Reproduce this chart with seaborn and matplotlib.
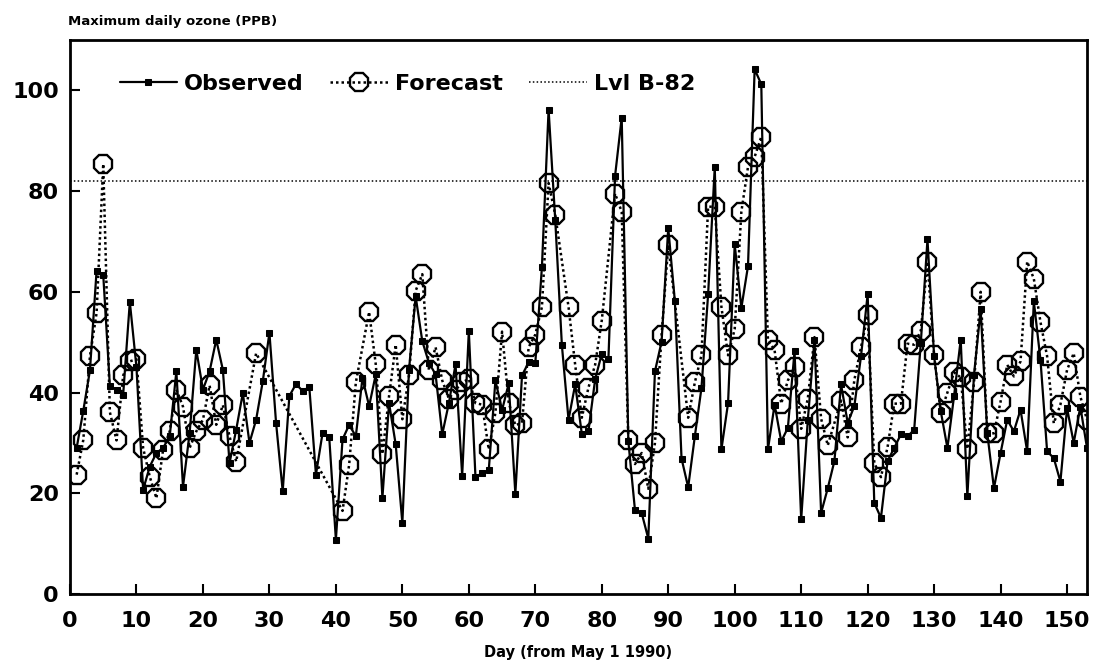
import numpy as np
import pandas as pd
import seaborn as sns
import matplotlib
matplotlib.use("Agg")
import matplotlib.pyplot as plt

# ---------------- data ----------------
obs_days = list(range(1, 154))
obs_values = [
    29.0, 36.4, 44.4, 64.2, 63.4, 41.3, 40.6, 39.6, 58.0, 45.0,      # 1-10
    20.7, 25.3, 28.0, 29.0, 31.3, 44.2, 21.3, 32.0, 48.5, 40.6,      # 11-20
    44.2, 50.5, 44.5, 26.0, 32.6, 39.9, 30.0, 34.6, 42.2, 51.9,      # 21-30
    34.0, 20.4, 39.3, 41.7, 40.3, 41.1, 23.7, 32.0, 31.1, 10.8,      # 31-40
    30.7, 33.6, 31.3, 42.9, 37.3, 43.6, 19.1, 37.9, 29.7, 14.1,      # 41-50
    44.5, 59.1, 50.2, 45.9, 43.6, 31.7, 37.9, 45.6, 23.5, 52.2,      # 51-60
    23.2, 24.0, 24.6, 42.4, 36.5, 41.8, 19.9, 43.4, 46.0, 45.8,      # 61-70
    65.0, 96.2, 74.3, 49.4, 34.6, 41.6, 31.8, 32.4, 42.6, 47.7,      # 71-80
    46.6, 83.0, 94.6, 30.3, 16.6, 16.1, 11.0, 44.2, 50.1, 72.7,      # 81-90
    58.1, 26.9, 21.2, 31.3, 40.9, 59.5, 84.8, 28.7, 37.9, 69.4,      # 91-100
    56.8, 65.1, 104.2, 101.2, 28.7, 37.6, 30.3, 33.0, 48.2, 14.8,    # 101-110
    34.6, 50.5, 16.1, 21.0, 26.4, 41.6, 34.0, 37.3, 47.2, 59.5,      # 111-120
    18.1, 15.1, 26.4, 29.0, 31.7, 31.3, 32.6, 49.9, 70.4, 47.2,      # 121-130
    36.3, 29.0, 39.3, 50.5, 19.4, 43.5, 56.5, 31.9, 21.0, 28.0,      # 131-140
    34.6, 32.3, 36.6, 28.3, 58.1, 46.5, 28.3, 27.0, 22.3, 36.9,      # 141-150
    30.0, 37.2, 29.0,                                                # 151-153
]

fc_days = [
    1, 2, 3, 4, 5, 6, 7, 8, 9, 10,
    11, 12, 13, 14, 15, 16, 17, 18, 19, 20,
    21, 22, 23, 24, 25, 28,
    41, 42, 43, 45, 46, 47, 48, 49, 50,
    51, 52, 53, 54, 55, 56, 57, 58, 59, 60,
    61, 62, 63, 64, 65, 66, 67, 68, 69, 70,
    71, 72, 73, 75, 76, 77, 78, 79, 80,
    82, 83, 84, 85, 86, 87, 88, 89, 90,
    93, 94, 95, 96, 97, 98, 99, 100,
    101, 102, 103, 104, 105, 106, 107, 108, 109, 110,
    111, 112, 113, 114, 116, 117, 118, 119, 120,
    121, 122, 123, 124, 125, 126, 127, 128, 129, 130,
    131, 132, 133, 134, 135, 136, 137, 138, 139, 140,
    141, 142, 143, 144, 145, 146, 147, 148, 149, 150,
    151, 152, 153,
]
fc_values = [
    23.7, 30.6, 47.2, 55.8, 85.4, 36.1, 30.5, 43.4, 46.2, 46.6,
    29.0, 23.3, 19.0, 28.6, 32.3, 40.6, 37.2, 29.0, 32.3, 34.6,
    41.4, 33.6, 37.5, 31.3, 26.3, 47.8,
    16.5, 25.7, 42.0, 56.0, 45.6, 27.8, 39.3, 49.5, 34.7,
    43.4, 60.2, 63.5, 44.4, 49.0, 42.4, 38.8, 40.5, 42.0, 42.7,
    37.9, 37.6, 28.7, 36.0, 52.1, 38.0, 33.5, 34.0, 49.0, 51.5,
    57.0, 81.6, 75.3, 57.0, 45.5, 35.0, 41.0, 45.5, 54.3,
    79.5, 75.9, 30.5, 25.8, 28.0, 20.9, 30.0, 51.4, 69.3,
    35.0, 42.0, 47.4, 76.9, 76.9, 57.0, 47.4, 52.6,
    75.9, 84.8, 86.8, 90.8, 50.4, 48.4, 37.8, 42.4, 45.1, 32.8,
    38.8, 51.0, 34.8, 29.5, 38.4, 31.1, 42.5, 49.0, 55.3,
    26.0, 23.2, 29.2, 37.8, 37.8, 49.7, 49.5, 52.3, 66.0, 47.4,
    36.0, 40.0, 44.0, 43.0, 28.8, 42.0, 60.0, 31.9, 31.9, 38.2,
    45.5, 43.2, 46.2, 66.0, 62.6, 54.0, 47.2, 33.9, 37.6, 44.5,
    47.8, 39.2, 34.6,
]

level_value = 82
x_ticks = list(range(0, 151, 10))
y_ticks = list(range(0, 101, 20))

title_text = "Maximum daily ozone (PPB)"
xlabel_text = "Day (from May 1 1990)"

# ---------------- plot ----------------
sns.set_theme(style="ticks")
plt.rcParams["font.family"] = ["DejaVu Sans"]
plt.rcParams["font.weight"] = "bold"
for key in ("text.color", "axes.labelcolor", "xtick.color", "ytick.color",
            "axes.edgecolor"):
    plt.rcParams[key] = "black"

fig = plt.figure(figsize=(10.96, 6.68), dpi=100)
ax = fig.add_axes([70 / 1096, 74 / 668, (1087 - 70) / 1096, (594 - 40) / 668])

obs_df = pd.DataFrame({"day": obs_days, "ozone": obs_values})
fc_df = pd.DataFrame({"day": fc_days, "ozone": fc_values})

sns.lineplot(data=obs_df, x="day", y="ozone", ax=ax, color="black",
             linewidth=1.6, marker="s", markersize=4.5,
             markeredgecolor="black", markerfacecolor="black",
             label="Observed", zorder=3)
sns.lineplot(data=fc_df, x="day", y="ozone", ax=ax, color="black",
             linewidth=1.8, linestyle=(0, (1, 1.2)), marker="8", markersize=13.5,
             markerfacecolor="none", markeredgecolor="black",
             markeredgewidth=1.7, label="Forecast", zorder=2)
ax.axhline(level_value, color="black", linewidth=1.1, linestyle=(0, (1, 1.5)),
           label="Lvl B-82", zorder=1)

ax.set_xlim(0, 153)
ax.set_ylim(0, 110)
ax.set_xticks(x_ticks)
ax.set_yticks(y_ticks)
ax.set_xticklabels([str(t) for t in x_ticks], fontsize=16, fontweight="bold",
                   color="black")
ax.set_yticklabels([str(t) for t in y_ticks], fontsize=16, fontweight="bold",
                   color="black")
ax.tick_params(axis="both", direction="in", length=7, width=1.5, pad=8,
               colors="black")
ax.tick_params(axis="x", pad=12)
for s in ax.spines.values():
    s.set_linewidth(2)
    s.set_color("black")

ax.set_xlabel(xlabel_text, fontsize=10.5, fontweight="bold", labelpad=10,
              color="black")
ax.set_ylabel("")
fig.text(68 / 1096, 1 - 21 / 668, title_text, fontsize=9.5, fontweight="bold",
         ha="left", va="center", color="black")

leg = ax.legend(loc="upper left", bbox_to_anchor=(0.04, 0.955), ncol=3,
                frameon=False, fontsize=16, handlelength=2.6,
                columnspacing=1.2, handletextpad=0.3, borderaxespad=0)
for t in leg.get_texts():
    t.set_fontweight("bold")
    t.set_color("black")

ax.grid(False)
fig.savefig("out.png", dpi=100, facecolor="white")
